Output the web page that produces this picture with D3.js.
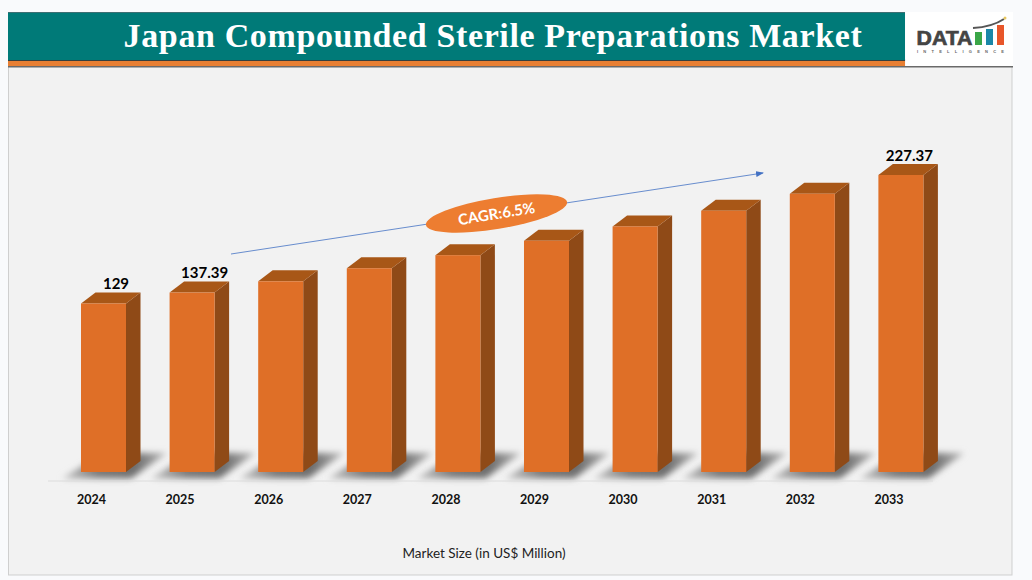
<!DOCTYPE html>
<html><head><meta charset="utf-8">
<script src="https://cdn.jsdelivr.net/npm/d3@7/dist/d3.min.js"></script>
<style>html,body{margin:0;padding:0;background:#f9fafc;overflow:hidden}svg{display:block}</style>
</head><body><svg id="c" width="1032" height="580"></svg>
<script>
const years=["2024","2025","2026","2027","2028","2029","2030","2031","2032","2033"];
const marketSize=[129,137.39,146,156,166,177,188,200,213,227.37];
const valueLabels=["129","137.39","","","","","","","","227.37"];
const titleText="Japan Compounded Sterile Preparations Market";
const axisTitle="Market Size (in US$ Million)";
const cagrText="CAGR:6.5%";
const logoBars=["#3aa648","#1b87a8","#e8562a"];

const svg=d3.select("#c");
const defs=svg.append("defs");
defs.append("filter").attr("id","blur").attr("x","-30%").attr("y","-50%").attr("width","160%").attr("height","200%")
  .append("feGaussianBlur").attr("stdDeviation",3.4);
const grad=defs.append("linearGradient").attr("id","shade").attr("x1",0).attr("x2",1).attr("y1",0).attr("y2",0);
grad.append("stop").attr("offset","0%").attr("stop-color","#c8c8c8");
grad.append("stop").attr("offset","35%").attr("stop-color","#7a7a7a");
grad.append("stop").attr("offset","70%").attr("stop-color","#6e6e6e");
grad.append("stop").attr("offset","100%").attr("stop-color","#bcbcbc");

// frame
svg.append("rect").attr("x",8.5).attr("y",60).attr("width",1003.5).attr("height",515)
  .attr("fill","#f2f2f2").attr("stroke","#cfcfcf");
svg.append("rect").attr("x",8).attr("y",12).attr("width",897).attr("height",49).attr("fill","#007a78");
svg.append("line").attr("x1",8).attr("x2",905).attr("y1",12.5).attr("y2",12.5).attr("stroke","#3d6f73");
svg.append("rect").attr("x",8).attr("y",60.5).attr("width",897).attr("height",6).attr("fill","#e87f33");
svg.append("line").attr("x1",8).attr("x2",905).attr("y1",60.5).attr("y2",60.5).attr("stroke","#33403f");
svg.append("line").attr("x1",8).attr("x2",1013).attr("y1",66.8).attr("y2",66.8).attr("stroke","#6a6a6a").attr("stroke-width",1.4);
svg.append("text").attr("x",493).attr("y",47).attr("text-anchor","middle")
  .attr("font-family","'Liberation Serif',serif").attr("font-weight",700).attr("font-size",34)
  .attr("letter-spacing",0.62).attr("fill","#fff").text(titleText);

// logo
const logo=svg.append("g");
logo.append("rect").attr("x",905.5).attr("y",12).attr("width",107.5).attr("height",54).attr("fill","#fff");
logo.append("text").attr("x",916.5).attr("y",45).attr("font-family","'Liberation Sans',sans-serif").attr("font-weight",700)
  .attr("font-size",21).attr("textLength",56).attr("lengthAdjust","spacingAndGlyphs")
  .attr("fill","#444").attr("stroke","#444").attr("stroke-width",.7).text("DATA");
logo.selectAll("rect.lb").data(logoBars).join("rect").attr("class","lb")
  .attr("x",(d,i)=>975+i*11).attr("width",7)
  .attr("y",(d,i)=>[32,29,25][i]).attr("height",(d,i)=>45-[32,29,25][i]).attr("fill",d=>d);
logo.append("path").attr("d","M973 28Q992 27 1004 19").attr("fill","none").attr("stroke","#555").attr("stroke-width",2);
logo.append("circle").attr("cx",1005).attr("cy",18).attr("r",1.5).attr("fill","#e8c860");
logo.append("text").attr("x",917).attr("y",53).attr("font-family","'Liberation Sans',sans-serif").attr("font-weight",700).attr("font-size",4)
  .attr("textLength",87).attr("fill","#666").text("INTELLIGENCE");

// chart scales
const x=d3.scaleBand().domain(years).range([59.2,945.2]).paddingInner(0.492).paddingOuter(0.246);
const y=d3.scaleLinear().domain([0,227.37]).range([472,175]);
const dx=14.5,dy=11;
const w=x.bandwidth();
const labelNudge=d=>d.year==="2033"?8.5:12.5;

// ground shadows
const shadows=svg.append("g");
shadows.selectAll("path").data(years).join("path")
  .attr("d",d=>{const a=x(d);return `M${a-19} 478.5L${a+50} 478.5L${a+86} 453L${a+22} 453Z`;})
  .attr("fill","url(#shade)").attr("filter","url(#blur)");

// axis line
svg.append("line").attr("x1",48).attr("x2",933).attr("y1",481).attr("y2",481).attr("stroke","#dcdcdc");

// bars
const bars=svg.append("g").selectAll("g").data(years.map((d,i)=>({year:d,value:marketSize[i],label:valueLabels[i]}))).join("g");
bars.append("path").attr("fill","#8f4a17")
  .attr("d",d=>{const r=x(d.year)+w,t=y(d.value),b=y(0);return `M${r} ${t}L${r+dx} ${t-dy}L${r+dx} ${b-dy}L${r} ${b}Z`;});
bars.append("path").attr("fill","#a85717")
  .attr("d",d=>{const l=x(d.year),r=l+w,t=y(d.value);return `M${l} ${t}L${l+dx} ${t-dy}L${r+dx} ${t-dy}L${r} ${t}Z`;});
bars.append("rect").attr("fill","#df6f27")
  .attr("x",d=>x(d.year)).attr("width",w).attr("y",d=>y(d.value)).attr("height",d=>y(0)-y(d.value));
bars.append("text").attr("x",d=>x(d.year)+w/2+labelNudge(d)).attr("y",d=>y(d.value)-14.5)
  .attr("text-anchor","middle").attr("font-family","Lato,sans-serif").attr("font-weight",700).attr("font-size",15)
  .attr("fill","#000").text(d=>d.label);

// tick labels
svg.append("g").selectAll("text").data(years).join("text")
  .attr("x",d=>x(d)+w/2-12).attr("y",504).attr("text-anchor","middle")
  .attr("font-family","Lato,sans-serif").attr("font-weight",700).attr("font-size",12.5).attr("fill","#111").text(d=>d);

svg.append("text").attr("x",484).attr("y",558).attr("text-anchor","middle")
  .attr("font-family","Lato,sans-serif").attr("font-size",13.5).attr("fill","#222").text(axisTitle);

// CAGR arrow
defs.append("marker").attr("id","arrow").attr("markerWidth",8).attr("markerHeight",6).attr("refX",7).attr("refY",3)
  .attr("orient","auto").attr("markerUnits","userSpaceOnUse")
  .append("path").attr("d","M0 0L8 3L0 6Z").attr("fill","#4472c4");
svg.append("line").attr("x1",231).attr("y1",254).attr("x2",763).attr("y2",173)
  .attr("stroke","#4472c4").attr("stroke-width",.8).attr("marker-end","url(#arrow)");
const badge=svg.append("g").attr("transform","translate(496.5,213.5) rotate(-9.3)");
badge.append("ellipse").attr("rx",71.5).attr("ry",15.5).attr("fill","#ed7d31");
badge.append("text").attr("y",5.5).attr("text-anchor","middle").attr("font-family","Lato,sans-serif").attr("font-weight",700)
  .attr("font-size",15).attr("fill","#fff").text(cagrText);
</script></body></html>
